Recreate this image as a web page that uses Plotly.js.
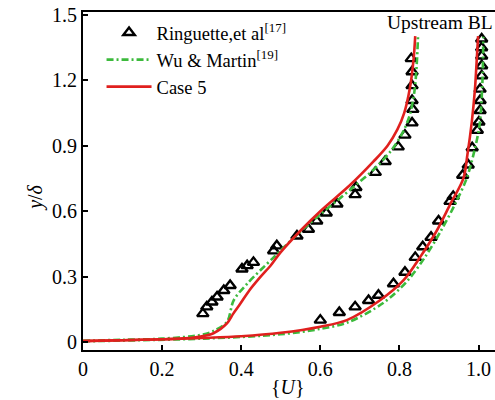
<!DOCTYPE html>
<html>
<head>
<meta charset="utf-8">
<script src="https://cdn.plot.ly/plotly-3.0.1.min.js"></script>
<style>html,body{margin:0;padding:0;background:#fff;}#chart{width:495px;height:400px;}</style>
</head>
<body>
<div id="chart"></div>
<script>
// Ringuette et al. [17] — separated profile (left) and upstream BL (right)
var ringLeftX = [0.303,0.313,0.326,0.339,0.356,0.372,0.402,0.415,0.431,0.482,0.490,0.541,0.570,0.591,0.615,0.642,0.688,0.690,0.739,0.764,0.797,0.814,0.832,0.834,0.832,0.832,0.832,0.830];
var ringLeftY = [0.130,0.161,0.183,0.206,0.236,0.259,0.335,0.350,0.365,0.418,0.441,0.486,0.517,0.555,0.592,0.633,0.676,0.709,0.778,0.828,0.895,0.949,1.005,1.067,1.108,1.176,1.240,1.300];
var ringRightX = [0.600,0.648,0.688,0.722,0.747,0.785,0.814,0.840,0.859,0.880,0.899,0.928,0.936,0.960,0.974,0.984,0.997,1.001,1.004,1.004,1.004,1.008,1.008,1.008,1.008,1.008];
var ringRightY = [0.100,0.135,0.161,0.190,0.214,0.267,0.320,0.388,0.437,0.480,0.555,0.645,0.668,0.765,0.812,0.891,0.971,1.009,1.062,1.108,1.160,1.221,1.267,1.312,1.350,1.390];

// Wu & Martin [19]
var wuLeftX = [0, 0.1, 0.2, 0.297, 0.33, 0.364, 0.381, 0.415, 0.482, 0.54, 0.6, 0.68, 0.74, 0.78, 0.808, 0.826, 0.838, 0.844, 0.847];
var wuLeftY = [0.005, 0.01, 0.015, 0.032, 0.05, 0.092, 0.191, 0.267, 0.388, 0.49, 0.585, 0.705, 0.8, 0.88, 0.96, 1.04, 1.15, 1.28, 1.4];
var wuRightX = [0, 0.3, 0.5, 0.6, 0.67, 0.76, 0.82, 0.865, 0.905, 0.94, 0.97, 0.99, 1.003, 1.01, 1.012];
var wuRightY = [0.003, 0.015, 0.035, 0.06, 0.09, 0.18, 0.28, 0.39, 0.51, 0.63, 0.75, 0.88, 1.0, 1.2, 1.4];

// Case 5
var caseLeftX = [0, 0.1, 0.2, 0.28, 0.33, 0.364, 0.38, 0.398, 0.42, 0.448, 0.475, 0.499, 0.549, 0.6, 0.676, 0.734, 0.77, 0.795, 0.812, 0.827, 0.836, 0.840];
var caseLeftY = [0.005, 0.008, 0.012, 0.02, 0.04, 0.085, 0.13, 0.176, 0.235, 0.297, 0.352, 0.41, 0.509, 0.6, 0.721, 0.827, 0.9, 0.975, 1.05, 1.17, 1.3, 1.403];
var caseRightX = [0, 0.1, 0.2, 0.3, 0.4, 0.5, 0.6, 0.667, 0.751, 0.81, 0.852, 0.894, 0.928, 0.962, 0.972, 0.983, 0.991, 0.996, 0.999];
var caseRightY = [0.003, 0.008, 0.012, 0.018, 0.026, 0.042, 0.07, 0.1, 0.191, 0.282, 0.388, 0.509, 0.63, 0.752, 0.86, 1.009, 1.16, 1.31, 1.403];

var xTicks = [0, 0.2, 0.4, 0.6, 0.8, 1.0];
var xTickLabels = ['0', '0.2', '0.4', '0.6', '0.8', '1.0'];
var yTicks = [0, 0.3, 0.6, 0.9, 1.2, 1.5];
var yTickLabels = ['0', '0.3', '0.6', '0.9', '1.2', '1.5'];

var seriesNames = ['Ringuette,et al<sup>[17]</sup>', 'Wu &amp; Martin<sup>[19]</sup>', 'Case 5'];

function join(a, b) { return a.concat([null], b); }

var FONT = 'Times New Roman, Liberation Serif, DejaVu Serif, serif';

var traces = [
  {
    x: join(ringLeftX, ringRightX), y: join(ringLeftY, ringRightY),
    mode: 'markers', type: 'scatter', name: seriesNames[0],
    marker: {symbol: 'triangle-up-open', size: 10, color: '#000', line: {color: '#000', width: 2.4}}
  },
  {
    x: join(wuLeftX, wuRightX), y: join(wuLeftY, wuRightY),
    mode: 'lines', type: 'scatter', name: seriesNames[1], connectgaps: false,
    line: {color: '#3cba3c', width: 2.6, dash: '7px,3px,2px,3px', shape: 'spline', smoothing: 0.9}
  },
  {
    x: join(caseLeftX, caseRightX), y: join(caseLeftY, caseRightY),
    mode: 'lines', type: 'scatter', name: seriesNames[2], connectgaps: false,
    line: {color: '#e0201e', width: 2.6, shape: 'spline', smoothing: 0.9}
  }
];

var layout = {
  width: 495, height: 400,
  margin: {l: 82.5, r: 0, t: 12, b: 50},
  paper_bgcolor: '#fff', plot_bgcolor: '#fff',
  font: {family: FONT, size: 20, color: '#000'},
  showlegend: true,
  legend: {
    x: 0.045, y: 0.994, xanchor: 'left', yanchor: 'top',
    bgcolor: 'rgba(0,0,0,0)', borderwidth: 0,
    font: {family: FONT, size: 18.5, color: '#000'},
    itemwidth: 45, tracegroupgap: 0
  },
  xaxis: {
    range: [0, 1.0417], showgrid: false, zeroline: false,
    showline: true, linecolor: '#000', linewidth: 2, mirror: true,
    ticks: 'inside', ticklen: 5, tickwidth: 2, tickcolor: '#000',
    tickvals: xTicks, ticktext: xTickLabels,
    tickfont: {family: FONT, size: 20, color: '#000'}
  },
  yaxis: {
    range: [-0.037, 1.514], showgrid: false, zeroline: false,
    showline: true, linecolor: '#000', linewidth: 2,
    ticks: 'inside', ticklen: 5, tickwidth: 2, tickcolor: '#000',
    tickvals: yTicks, ticktext: yTickLabels,
    tickfont: {family: FONT, size: 20, color: '#000'}
  },
  annotations: [
    {text: '{<i>U</i>}', xref: 'paper', yref: 'paper', x: 0.498, y: -0.109, yanchor: 'middle', showarrow: false, font: {family: FONT, size: 20}},
    {text: '<i>y</i>/<i>δ</i>', xref: 'paper', yref: 'paper', x: -0.147, y: 0.45, textangle: -90, showarrow: false, font: {family: FONT, size: 20}},
    {text: 'Upstream BL', xref: 'paper', yref: 'paper', x: 1.0, xanchor: 'right', y: 1.006, yanchor: 'top', showarrow: false, font: {family: FONT, size: 19.5}}
  ]
};

Plotly.newPlot('chart', traces, layout, {staticPlot: true, displayModeBar: false});
</script>
</body>
</html>
